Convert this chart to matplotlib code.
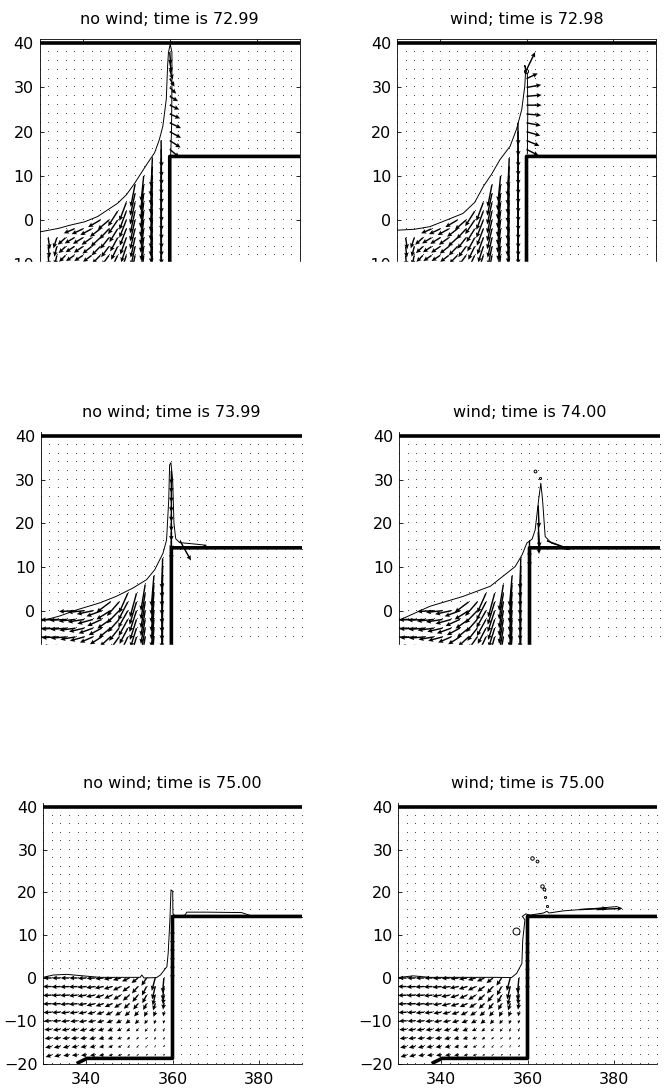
import numpy as np
import matplotlib.pyplot as plt
from matplotlib.patches import Rectangle

plt.rcParams['font.family'] = ['DejaVu Sans']
plt.rcParams['font.size'] = 11.5

titles = ["no wind; time is 72.99", "wind; time is 72.98",
          "no wind; time is 73.99", "wind; time is 74.00",
          "no wind; time is 75.00", "wind; time is 75.00"]

# quiver grid (zero vectors show up as dots)
grid_x = np.arange(330, 391, 2)
grid_y = np.arange(-20, 39, 2)
field_x = [332, 334, 336, 338, 340, 342, 344, 346, 348, 350, 352, 354, 356, 358]

# solid boundaries
wall_x = [337.8, 340.2, 360, 360, 390]
wall_y = [-20, -18.8, -18.8, 14.4, 14.4]
lid_x = [330, 390]
lid_y = [40, 40]

# ---- velocity in the water, t ~ 73
top_rows = [14, 12, 10, 8, 6, 4, 2, 0, -2, -4, -6, -8]
top_u = [
    [0, 0, 0, 0, 0, 0, 0, 0, 0, 0, 0, 0, -0.3, 0.1],
    [0, 0, 0, 0, 0, 0, 0, 0, 0, 0, 0, 0, -0.4, 0.1],
    [0, 0, 0, 0, 0, 0, 0, 0, 0, 0, 0, -0.6, -0.4, 0.1],
    [0, 0, 0, 0, 0, 0, 0, 0, 0, 0, -1.0, -0.7, -0.4, 0.1],
    [0, 0, 0, 0, 0, 0, 0, 0, 0, 0, -1.1, -0.7, -0.4, 0.1],
    [0, 0, 0, 0, 0, 0, 0, 0, 0, -1.6, -1.1, -0.7, -0.4, 0.1],
    [0, 0, 0, 0, 0, 0, 0, 0, -2.2, -1.6, -1.1, -0.7, -0.4, 0.1],
    [0, 0, 0, 0, 0, 0, -2.8, -2.6, -2.2, -1.6, -1.1, -0.7, -0.4, 0.1],
    [0, 0, 0, -2.4, -2.6, -2.6, -2.4, -2.2, -1.9, -1.5, -1.1, -0.7, -0.4, 0.1],
    [0.4, -0.8, -1.8, -2.2, -2.3, -2.3, -2.2, -2.0, -1.7, -1.4, -1.0, -0.6, -0.3, 0.1],
    [0.3, -0.6, -1.6, -2.0, -2.1, -2.1, -2.0, -1.8, -1.5, -1.2, -0.9, -0.6, -0.3, 0.1],
    [0.2, -0.5, -1.5, -1.9, -2.0, -2.0, -1.9, -1.7, -1.4, -1.1, -0.8, -0.5, -0.3, 0.1],
]
top_v = [
    [0, 0, 0, 0, 0, 0, 0, 0, 0, 0, 0, 0, -6.5, -6.0],
    [0, 0, 0, 0, 0, 0, 0, 0, 0, 0, 0, 0, -6.6, -6.2],
    [0, 0, 0, 0, 0, 0, 0, 0, 0, 0, 0, -5.8, -6.6, -6.3],
    [0, 0, 0, 0, 0, 0, 0, 0, 0, 0, -5.0, -5.8, -6.6, -6.4],
    [0, 0, 0, 0, 0, 0, 0, 0, 0, 0, -5.0, -5.8, -6.6, -6.4],
    [0, 0, 0, 0, 0, 0, 0, 0, 0, -4.2, -5.0, -5.8, -6.6, -6.4],
    [0, 0, 0, 0, 0, 0, 0, 0, -3.4, -4.2, -5.0, -5.8, -6.6, -6.4],
    [0, 0, 0, 0, 0, 0, -1.6, -2.2, -3.2, -4.0, -4.8, -5.6, -6.4, -6.4],
    [0, 0, 0, -1.0, -1.2, -1.4, -1.8, -2.3, -3.0, -3.8, -4.6, -5.4, -6.2, -6.2],
    [-2.6, -2.4, -1.6, -1.3, -1.4, -1.6, -2.0, -2.5, -3.1, -3.8, -4.5, -5.2, -5.8, -6.0],
    [-2.5, -2.3, -1.5, -1.3, -1.4, -1.6, -2.0, -2.4, -3.0, -3.6, -4.3, -5.0, -5.6, -5.8],
    [-2.4, -2.2, -1.5, -1.3, -1.3, -1.5, -1.9, -2.3, -2.9, -3.4, -4.1, -4.8, -5.4, -5.6],
]

# ---- velocity in the water, t ~ 74
mid_rows = [12, 10, 8, 6, 4, 2, 0, -2, -4, -6, -8]
mid_u = [
    [0, 0, 0, 0, 0, 0, 0, 0, 0, 0, 0, 0, 0, -0.2],
    [0, 0, 0, 0, 0, 0, 0, 0, 0, 0, 0, 0, 0, -0.2],
    [0, 0, 0, 0, 0, 0, 0, 0, 0, 0, 0, 0, -0.6, -0.2],
    [0, 0, 0, 0, 0, 0, 0, 0, 0, 0, 0, -1.0, -0.6, -0.2],
    [0, 0, 0, 0, 0, 0, 0, 0, 0, -2.0, -1.5, -1.0, -0.6, -0.2],
    [0, 0, 0, 0, 0, 0, 0, -3.2, -2.8, -2.2, -1.6, -1.0, -0.6, -0.2],
    [0, 0, 0, -3.8, -3.8, -3.7, -3.5, -3.2, -2.8, -2.2, -1.6, -1.0, -0.6, -0.2],
    [-4.0, -4.0, -4.0, -3.9, -3.8, -3.6, -3.3, -3.0, -2.6, -2.1, -1.5, -1.0, -0.6, -0.2],
    [-3.9, -3.9, -3.8, -3.7, -3.5, -3.3, -3.0, -2.7, -2.3, -1.9, -1.4, -0.9, -0.5, -0.2],
    [-3.8, -3.8, -3.7, -3.5, -3.3, -3.0, -2.7, -2.4, -2.0, -1.6, -1.2, -0.8, -0.5, -0.2],
    [-3.7, -3.6, -3.5, -3.3, -3.1, -2.8, -2.5, -2.2, -1.8, -1.4, -1.0, -0.7, -0.4, -0.2],
]
mid_v = [
    [0, 0, 0, 0, 0, 0, 0, 0, 0, 0, 0, 0, 0, -7.0],
    [0, 0, 0, 0, 0, 0, 0, 0, 0, 0, 0, 0, 0, -7.0],
    [0, 0, 0, 0, 0, 0, 0, 0, 0, 0, 0, 0, -7.0, -7.0],
    [0, 0, 0, 0, 0, 0, 0, 0, 0, 0, 0, -6.0, -7.0, -7.0],
    [0, 0, 0, 0, 0, 0, 0, 0, 0, -4.5, -5.5, -6.0, -6.8, -7.0],
    [0, 0, 0, 0, 0, 0, 0, -2.4, -3.2, -4.2, -5.2, -6.0, -6.8, -7.0],
    [0, 0, 0, -0.2, -0.4, -0.8, -1.3, -2.0, -2.9, -3.9, -4.9, -5.8, -6.6, -6.8],
    [-0.1, -0.1, -0.2, -0.4, -0.6, -1.0, -1.5, -2.1, -2.9, -3.8, -4.7, -5.6, -6.4, -6.6],
    [-0.1, -0.2, -0.3, -0.5, -0.8, -1.2, -1.6, -2.2, -2.9, -3.6, -4.4, -5.2, -6.0, -6.2],
    [-0.1, -0.2, -0.3, -0.6, -0.9, -1.3, -1.7, -2.2, -2.8, -3.4, -4.1, -4.8, -5.5, -5.8],
    [-0.1, -0.2, -0.4, -0.7, -1.0, -1.4, -1.8, -2.2, -2.7, -3.2, -3.8, -4.4, -5.0, -5.3],
]

# ---- velocity in the water, t = 75
bot_rows = [0, -2, -4, -6, -8, -10, -12, -14, -16, -18]
bot_u = [
    [-1.9, -1.9, -1.9, -1.9, -1.9, -1.9, -1.9, -1.9, -1.8, -1.7, -1.5, -1.2, -0.8, -0.3],
    [-2.0, -2.0, -2.0, -2.0, -2.0, -2.0, -2.0, -1.9, -1.8, -1.6, -1.4, -1.1, -0.7, -0.3],
    [-2.0, -2.0, -2.0, -2.0, -2.0, -2.0, -1.9, -1.8, -1.7, -1.5, -1.3, -1.0, -0.6, -0.2],
    [-2.0, -2.0, -2.0, -2.0, -1.9, -1.9, -1.8, -1.7, -1.5, -1.3, -1.1, -0.8, -0.5, -0.2],
    [-1.9, -1.9, -1.9, -1.9, -1.8, -1.7, -1.6, -1.5, -1.3, -1.1, -0.9, -0.6, -0.4, -0.1],
    [-1.8, -1.8, -1.8, -1.7, -1.7, -1.6, -1.5, -1.3, -1.1, -0.9, -0.7, -0.5, -0.3, -0.1],
    [-1.7, -1.7, -1.7, -1.6, -1.5, -1.4, -1.3, -1.1, -0.9, -0.7, -0.5, -0.4, -0.2, -0.1],
    [-1.6, -1.6, -1.5, -1.5, -1.4, -1.3, -1.1, -1.0, -0.8, -0.6, -0.4, -0.3, -0.2, 0.0],
    [-1.5, -1.5, -1.4, -1.4, -1.3, -1.2, -1.0, -0.9, -0.7, -0.5, -0.4, -0.3, -0.2, 0.0],
    [-1.4, -1.4, -1.3, -1.3, -1.2, -1.1, -1.0, -0.8, -0.7, -0.5, -0.4, -0.3, -0.2, 0.0],
]
bot_v = [
    [0.0, 0.0, 0.0, 0.0, -0.1, -0.1, -0.2, -0.3, -0.5, -0.8, -1.2, -1.8, -3.0, -3.5],
    [0.0, -0.1, -0.1, -0.1, -0.2, -0.3, -0.4, -0.6, -0.9, -1.2, -1.6, -2.1, -3.0, -3.2],
    [-0.1, -0.1, -0.1, -0.2, -0.3, -0.4, -0.6, -0.8, -1.1, -1.3, -1.6, -1.9, -2.4, -2.2],
    [-0.1, -0.1, -0.2, -0.2, -0.3, -0.5, -0.6, -0.8, -1.0, -1.2, -1.4, -1.5, -1.6, -1.4],
    [-0.1, -0.1, -0.2, -0.2, -0.3, -0.4, -0.5, -0.7, -0.8, -0.9, -1.0, -1.1, -1.1, -1.0],
    [-0.1, -0.1, -0.2, -0.2, -0.3, -0.3, -0.4, -0.5, -0.6, -0.7, -0.8, -0.8, -0.8, -0.7],
    [-0.1, -0.2, -0.2, -0.2, -0.3, -0.3, -0.3, -0.4, -0.4, -0.5, -0.5, -0.6, -0.6, -0.6],
    [-0.2, -0.2, -0.2, -0.2, -0.2, -0.3, -0.3, -0.3, -0.3, -0.4, -0.4, -0.4, -0.5, -0.5],
    [-0.3, -0.3, -0.3, -0.2, -0.2, -0.2, -0.2, -0.2, -0.2, -0.3, -0.3, -0.3, -0.3, -0.3],
    [-0.5, -0.4, -0.2, -0.1, -0.1, -0.1, -0.1, -0.1, -0.1, -0.1, -0.1, -0.1, -0.1, -0.1],
]

# ---- free surfaces
tl_sx = [330, 334.3, 337.3, 340.4, 343.4, 345.7, 348.0, 350.0, 351.9, 353.4, 354.9,
         356.5, 357.6, 358.4, 359.2, 359.5, 359.7, 360.1, 360.5, 360.5, 360.4, 360.2]
tl_sy = [-2.7, -1.9, -1.1, -0.4, 0.8, 2.3, 3.8, 5.7, 8.3, 10.6, 12.9,
         15.2, 18.2, 21.2, 27.3, 34.8, 37.9, 39.8, 38.0, 30.0, 20.0, 14.4]
tr_sx = [330, 334.0, 337.6, 341.5, 345.3, 348.0, 350.0, 352.0, 353.8, 356.2, 357.7,
         358.9, 359.6, 359.8, 359.6, 360.2, 360.3, 360.2]
tr_sy = [-2.3, -2.1, -1.5, 0.0, 1.5, 4.0, 7.6, 10.5, 13.6, 16.7, 20.6,
         25.0, 30.3, 33.8, 35.0, 33.0, 25.0, 15.0]
ml_sx = [330, 334.4, 338.3, 343.6, 347.4, 351.2, 354.3, 356.2, 358.1, 358.9, 359.4,
         359.6, 359.9, 360.3, 360.6, 361.0, 361.9, 365.0, 368.0, 367.0, 361.0]
ml_sy = [-2.4, -1.2, 0.2, 1.8, 3.3, 5.2, 7.1, 9.4, 13.2, 16.2, 25.4,
         33.4, 33.9, 30.0, 20.0, 16.5, 15.6, 15.3, 15.0, 14.6, 14.4]
mr_sx = [330, 337.1, 344.8, 351.0, 354.8, 356.7, 358.3, 359.4, 360.6, 361.3, 362.1,
         362.6, 363.0, 363.6, 365.0, 369.0, 364.0, 360.5]
mr_sy = [-2.2, 1.0, 3.3, 5.6, 8.6, 10.1, 12.8, 15.5, 16.4, 18.5, 25.4,
         29.2, 25.4, 17.0, 15.5, 14.2, 14.4, 14.4]
bl_sx = [330, 332.4, 335.5, 339.3, 343.2, 352.5, 352.9, 353.4, 356.3, 357.2, 358.7,
         359.0, 359.4, 359.65, 360.05, 360.1, 360.6, 362.9, 363.3, 368.0, 376.0, 378.7]
bl_sy = [0.15, 0.7, 0.85, 0.5, 0.15, 0.15, 0.7, 0.0, 0.1, 0.7, 2.65,
         5.8, 13.6, 20.6, 20.3, 15.1, 14.4, 14.7, 15.4, 15.4, 15.3, 14.4]
br_sx = [330, 333.5, 337.4, 352.9, 356.3, 357.5, 358.7, 358.9, 359.4, 358.8, 359.6,
         360.6, 363.7, 364.5, 365.0, 368.3, 376.0, 380.7]
br_sy = [0.1, 0.5, 0.15, 0.15, 0.1, 1.1, 3.4, 8.9, 13.6, 14.4, 15.0,
         14.7, 15.2, 15.6, 15.2, 15.7, 16.3, 16.7]

# ---- extra arrows (jets, films)
tl_ex_x = [358, 358, 360, 360, 360, 360, 360, 360, 360, 360, 360, 360, 360, 360]
tl_ex_y = [18, 16, 38, 36, 34, 32, 30, 28, 26, 24, 22, 20, 18, 16]
tl_ex_u = [0.1, 0.1, 0.2, 0.4, 0.7, 1.1, 1.5, 1.9, 2.2, 2.4, 2.6, 2.6, 2.5, 2.2]
tl_ex_v = [-6.0, -6.2, -2.8, -2.6, -2.2, -1.8, -1.4, -1.1, -1.0, -1.0, -1.2, -1.4, -1.6, -1.8]
tr_ex_x = [358, 358, 358, 358, 360, 360, 360, 360, 360, 360, 360, 360, 360, 360]
tr_ex_y = [22, 20, 18, 16, 34, 32, 30, 28, 26, 24, 22, 20, 18, 16]
tr_ex_u = [0.1, 0.1, 0.1, 0.1, 2.0, 2.6, 3.4, 3.5, 3.5, 3.4, 3.3, 3.2, 3.0, 2.8]
tr_ex_v = [-5.0, -5.5, -6.0, -6.0, 4.0, 1.2, 0.6, 0.3, 0.0, -0.3, -0.6, -0.9, -1.2, -1.4]
ml_ex_x = [360, 360, 360, 360, 360, 360, 360, 360, 360, 362]
ml_ex_y = [32, 30, 28, 26, 24, 22, 20, 18, 16, 16]
ml_ex_u = [0.0, 0.0, 0.0, 0.0, 0.0, 0.0, 0.0, 0.0, 0.0, 2.5]
ml_ex_v = [-3.0, -3.0, -3.2, -3.4, -3.6, -3.8, -4.0, -4.2, -4.4, -4.5]
mr_ex_x = [360, 360, 362, 362, 362, 364]
mr_ex_y = [16, 14, 24, 20, 18, 16]
mr_ex_u = [0.0, 0.0, 0.2, 0.3, 0.2, 5.5]
mr_ex_v = [-4.0, -4.0, -5.0, -5.5, -5.0, -2.0]
bl_ex_x = [360, 360, 360, 360, 360, 360]
bl_ex_y = [12, 10, 8, 6, 4, 2]
bl_ex_u = [0.0, 0.0, 0.0, 0.0, 0.0, 0.0]
bl_ex_v = [-2.5, -2.5, -2.5, -2.5, -2.5, -2.5]
br_ex_x = [360, 360, 360, 360, 360, 360, 372, 376]
br_ex_y = [10, 8, 6, 4, 2, 0, 16, 16]
br_ex_u = [0.0, 0.0, 0.0, 0.0, 0.0, 0.0, 6.5, 6.0]
br_ex_v = [-3.0, -3.0, -3.0, -3.0, -3.0, -3.0, 0.3, 0.3]

# ---- spray / bubbles
tr_drop_x = [359.8]
tr_drop_y = [33.8]
mr_drop_x = [361.3, 362.3]
mr_drop_y = [32.1, 30.4]
br_drop_x = [357.3, 361.0, 362.1, 363.3, 363.9, 364.1, 364.6]
br_drop_y = [11.0, 28.0, 27.4, 21.4, 20.8, 18.9, 16.9]
br_drop_ms = [5, 2.5, 2, 2.5, 2, 1.5, 1.5]

panels = [
    (top_rows, top_u, top_v, tl_sx, tl_sy, tl_ex_x, tl_ex_y, tl_ex_u, tl_ex_v, [], [], []),
    (top_rows, top_u, top_v, tr_sx, tr_sy, tr_ex_x, tr_ex_y, tr_ex_u, tr_ex_v, tr_drop_x, tr_drop_y, [3]),
    (mid_rows, mid_u, mid_v, ml_sx, ml_sy, ml_ex_x, ml_ex_y, ml_ex_u, ml_ex_v, [], [], []),
    (mid_rows, mid_u, mid_v, mr_sx, mr_sy, mr_ex_x, mr_ex_y, mr_ex_u, mr_ex_v, mr_drop_x, mr_drop_y, [2, 1.5]),
    (bot_rows, bot_u, bot_v, bl_sx, bl_sy, bl_ex_x, bl_ex_y, bl_ex_u, bl_ex_v, [], [], []),
    (bot_rows, bot_u, bot_v, br_sx, br_sy, br_ex_x, br_ex_y, br_ex_u, br_ex_v, br_drop_x, br_drop_y, br_drop_ms),
]

# axes boxes in pixels: (left, right, top, bottom)
H, W = 1091, 665
boxes = [(39.5, 300, 38.9, 308.4), (397, 656, 38.9, 308.4),
         (40.7, 302, 431.7, 698.0), (399, 660, 431.7, 698.0),
         (43, 302, 802.7, 1063.5), (398, 657, 802.7, 1063.5)]

fig = plt.figure(figsize=(W / 100, H / 100), dpi=100)
gx, gy = np.meshgrid(grid_x, grid_y)

for i, (rows, fu, fv, sx, sy, ex, ey, eu, ev, dx, dy, dms) in enumerate(panels):
    l, r, t, b = boxes[i]
    ax = fig.add_axes([l / W, 1 - b / H, (r - l) / W, (b - t) / H])
    ax.plot(gx.ravel(), gy.ravel(), ',', color='0.3', zorder=2)

    fx, fy = np.meshgrid(field_x, rows)
    fu = np.array(fu, dtype=float)
    fv = np.array(fv, dtype=float)
    m = (fu != 0) | (fv != 0)
    qx = np.concatenate([fx[m], ex])
    qy = np.concatenate([fy[m], ey])
    qu = np.concatenate([fu[m], eu])
    qv = np.concatenate([fv[m], ev])
    ax.quiver(qx, qy, qu, qv, angles='xy', scale_units='xy', scale=1,
              width=0.0055, headwidth=3.3, headlength=3.5, headaxislength=3.1,
              color='k', zorder=3)

    ax.plot(sx, sy, color='k', lw=0.7, zorder=4)
    for x0, y0, ms in zip(dx, dy, dms):
        ax.plot(x0, y0, 'o', ms=ms, mfc='none', mec='k', mew=0.7, zorder=4)
    ax.plot(wall_x, wall_y, color='k', lw=2.6, zorder=5, solid_capstyle='butt')
    ax.plot(lid_x, lid_y, color='k', lw=2.6, zorder=5)

    ax.set_xlim(330, 390)
    ax.set_ylim(-20, 41)
    ax.set_xticks([340, 360, 380])
    ax.set_yticks([-20, -10, 0, 10, 20, 30, 40])
    boxed = i < 2
    ax.tick_params(direction='in', length=3, width=0.6, top=boxed, right=boxed,
                   labelsize=11.5, pad=4)
    ax.tick_params(axis='x', pad=6)
    for side in ['top', 'right']:
        ax.spines[side].set_visible(boxed)
    for sp in ax.spines.values():
        sp.set_linewidth(0.6)
    ax.set_title(titles[i], fontsize=11.5, pad=10.5)

# the lower part of the first two rows is hidden in the original
for y0, y1 in [(262, 400), (645, 772)]:
    fig.add_artist(Rectangle((0, 1 - y1 / H), 1, (y1 - y0) / H,
                             transform=fig.transFigure, color='white', zorder=10))

fig.savefig("out.png", dpi=100)
